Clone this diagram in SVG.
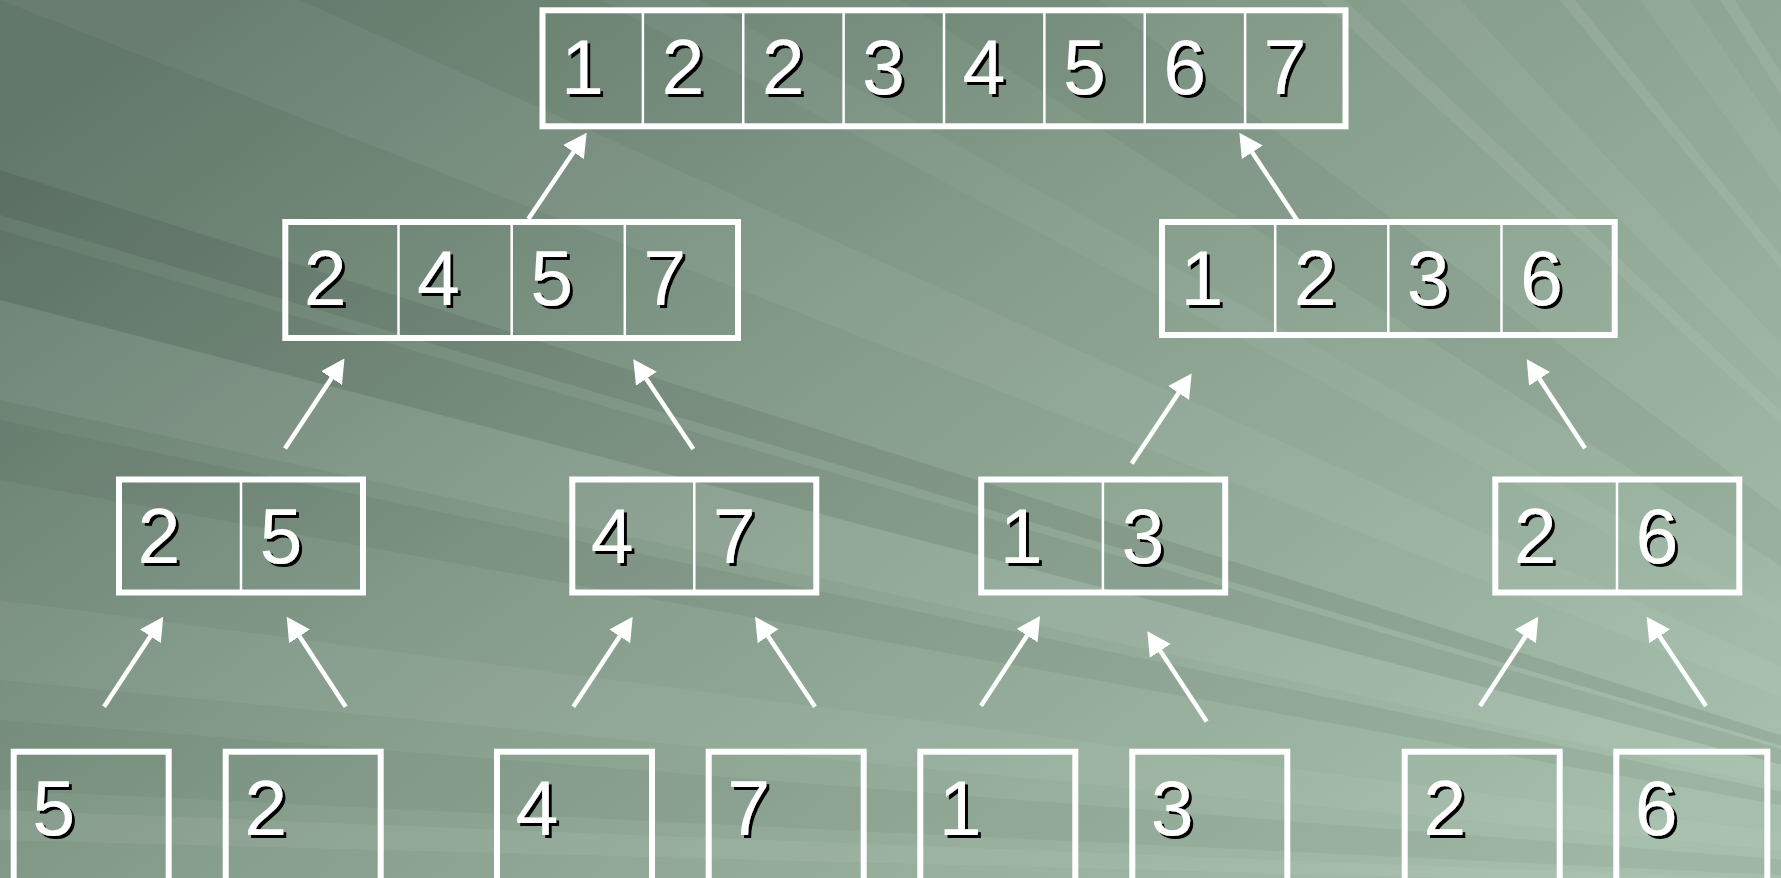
<svg xmlns="http://www.w3.org/2000/svg" width="1781" height="878" viewBox="0 0 1781 878">
<defs>
<linearGradient id="bg" x1="0" y1="0.15" x2="1" y2="0.85">
<stop offset="0" stop-color="#61786a"/>
<stop offset="0.45" stop-color="#869d8c"/>
<stop offset="1" stop-color="#a6beac"/>
</linearGradient>
<filter id="sh" x="-20%" y="-20%" width="150%" height="150%">
<feFlood flood-color="#000"/>
<feComposite in2="SourceAlpha" operator="in"/>
<feOffset dx="3" dy="3" result="s"/>
<feMerge><feMergeNode in="s"/><feMergeNode in="SourceGraphic"/></feMerge>
</filter>
<marker id="ah" markerUnits="userSpaceOnUse" viewBox="0 -13 25 26" refX="0.5" refY="0" markerWidth="25" markerHeight="26" orient="auto">
<path d="M0,-12.5 L23.5,0 L0,12.5 Z" fill="#fff"/>
</marker>
<style>
.box{fill:none;stroke:#fff;stroke-width:6}
.div{stroke:#fff;stroke-width:2.5}
.t{font-family:"Liberation Sans",Arial,sans-serif;font-size:77px;fill:#fff;filter:url(#sh)}
.a{stroke:#fff;stroke-width:4.5;fill:none;marker-end:url(#ah)}
.lr{fill:#fff}
.dr{fill:#000}
</style>
</defs>
<g id="background">
<rect x="0" y="0" width="1781" height="878" fill="url(#bg)"/>
<polygon class="dr" opacity="0.08" points="2300,900 0,170 0,215"/>
<polygon class="dr" opacity="0.06" points="2300,900 0,230 0,300"/>
<polygon class="lr" opacity="0.06" points="2300,900 0,300 0,400"/>
<polygon class="dr" opacity="0.05" points="2300,900 0,420 0,480"/>
<polygon class="lr" opacity="0.05" points="2300,900 0,600 0,680"/>
<polygon class="dr" opacity="0.04" points="2300,900 0,720 0,790"/>
<polygon class="lr" opacity="0.06" points="2300,900 0,810 0,840"/>
<polygon class="lr" opacity="0.07" points="2300,900 1320,0 1345,0"/>
<polygon class="lr" opacity="0.05" points="2300,900 1400,0 1460,0"/>
<polygon class="lr" opacity="0.08" points="2300,900 1560,0 1575,0"/>
<polygon class="lr" opacity="0.05" points="2300,900 1640,0 1690,0"/>
<polygon class="lr" opacity="0.08" points="2300,900 1720,0 1735,0"/>
<polygon class="dr" opacity="0.04" points="2300,900 900,0 1100,0"/>
<polygon class="lr" opacity="0.04" points="2300,900 600,0 700,0"/>
<polygon class="lr" opacity="0.05" points="2300,900 0,0 300,0"/>
</g>
<g id="connectors">
<line class="a" x1="528.3" y1="219" x2="573.8" y2="151.7"/>
<line class="a" x1="1296.9" y1="220" x2="1252" y2="151.9"/>
<line class="a" x1="285" y1="448.5" x2="331.8" y2="377.7"/>
<line class="a" x1="693.3" y1="449" x2="646.1" y2="378.4"/>
<line class="a" x1="1131.7" y1="463.5" x2="1178.9" y2="392.6"/>
<line class="a" x1="1585" y1="448.3" x2="1539.3" y2="378.5"/>
<line class="a" x1="104" y1="706.7" x2="150.6" y2="635.9"/>
<line class="a" x1="345.7" y1="706.7" x2="299.3" y2="635.9"/>
<line class="a" x1="573.3" y1="706.7" x2="620" y2="635.9"/>
<line class="a" x1="815" y1="706.7" x2="767.8" y2="635.8"/>
<line class="a" x1="981" y1="705.7" x2="1027.4" y2="635.1"/>
<line class="a" x1="1206.7" y1="721.5" x2="1160" y2="650.5"/>
<line class="a" x1="1480" y1="706" x2="1525.7" y2="636"/>
<line class="a" x1="1706" y1="706" x2="1659.4" y2="635.9"/>
</g>
<g id="n-top">
<rect class="box" x="542.5" y="10.3" width="803" height="116"/>
<line class="div" x1="642.9" y1="10.3" x2="642.9" y2="126.3"/>
<line class="div" x1="743.25" y1="10.3" x2="743.25" y2="126.3"/>
<line class="div" x1="843.6" y1="10.3" x2="843.6" y2="126.3"/>
<line class="div" x1="944" y1="10.3" x2="944" y2="126.3"/>
<line class="div" x1="1044.4" y1="10.3" x2="1044.4" y2="126.3"/>
<line class="div" x1="1144.75" y1="10.3" x2="1144.75" y2="126.3"/>
<line class="div" x1="1245.1" y1="10.3" x2="1245.1" y2="126.3"/>
<text class="t" x="561" y="94">1</text>
<text class="t" x="661.4" y="94">2</text>
<text class="t" x="761.8" y="94">2</text>
<text class="t" x="862.1" y="94">3</text>
<text class="t" x="962.5" y="94">4</text>
<text class="t" x="1062.9" y="94">5</text>
<text class="t" x="1163.3" y="94">6</text>
<text class="t" x="1263.6" y="94">7</text>
</g>
<g id="n-2457">
<rect class="box" x="285.3" y="222" width="452.7" height="116"/>
<line class="div" x1="398.5" y1="222" x2="398.5" y2="338"/>
<line class="div" x1="511.7" y1="222" x2="511.7" y2="338"/>
<line class="div" x1="624.8" y1="222" x2="624.8" y2="338"/>
<text class="t" x="303.8" y="305">2</text>
<text class="t" x="417" y="305">4</text>
<text class="t" x="530.2" y="305">5</text>
<text class="t" x="643.3" y="305">7</text>
</g>
<g id="n-1236">
<rect class="box" x="1162" y="222" width="452.7" height="113"/>
<line class="div" x1="1275.2" y1="222" x2="1275.2" y2="335"/>
<line class="div" x1="1388.3" y1="222" x2="1388.3" y2="335"/>
<line class="div" x1="1501.5" y1="222" x2="1501.5" y2="335"/>
<text class="t" x="1180.5" y="305">1</text>
<text class="t" x="1293.7" y="305">2</text>
<text class="t" x="1406.8" y="305">3</text>
<text class="t" x="1520" y="305">6</text>
</g>
<g id="n-25">
<rect class="box" x="119" y="479.5" width="244" height="113"/>
<line class="div" x1="241" y1="479.5" x2="241" y2="592.5"/>
<text class="t" x="137.5" y="562.5">2</text>
<text class="t" x="259.5" y="562.5">5</text>
</g>
<g id="n-47">
<rect class="box" x="572.3" y="479.5" width="244" height="113"/>
<line class="div" x1="694.3" y1="479.5" x2="694.3" y2="592.5"/>
<text class="t" x="590.8" y="562.5">4</text>
<text class="t" x="712.8" y="562.5">7</text>
</g>
<g id="n-13">
<rect class="box" x="981.2" y="479.5" width="244" height="113"/>
<line class="div" x1="1102.9" y1="479.5" x2="1102.9" y2="592.5"/>
<text class="t" x="999.7" y="562.5">1</text>
<text class="t" x="1121.5" y="562.5">3</text>
</g>
<g id="n-26">
<rect class="box" x="1495.3" y="479.5" width="244" height="113"/>
<line class="div" x1="1617" y1="479.5" x2="1617" y2="592.5"/>
<text class="t" x="1513.8" y="562.5">2</text>
<text class="t" x="1635.5" y="562.5">6</text>
</g>
<g id="n-leaf-5">
<rect class="box" x="13.7" y="751.7" width="155" height="150"/>
<text class="t" x="32.2" y="834.5">5</text>
</g>
<g id="n-leaf-2a">
<rect class="box" x="225.7" y="751.7" width="155" height="150"/>
<text class="t" x="244.2" y="834.5">2</text>
</g>
<g id="n-leaf-4">
<rect class="box" x="497" y="751.7" width="155" height="150"/>
<text class="t" x="515.5" y="834.5">4</text>
</g>
<g id="n-leaf-7">
<rect class="box" x="708.7" y="751.7" width="155" height="150"/>
<text class="t" x="727.2" y="834.5">7</text>
</g>
<g id="n-leaf-1">
<rect class="box" x="920.3" y="751.7" width="155" height="150"/>
<text class="t" x="938.8" y="834.5">1</text>
</g>
<g id="n-leaf-3">
<rect class="box" x="1132.3" y="751.7" width="155" height="150"/>
<text class="t" x="1150.8" y="834.5">3</text>
</g>
<g id="n-leaf-2b">
<rect class="box" x="1404.7" y="751.7" width="155" height="150"/>
<text class="t" x="1423.2" y="834.5">2</text>
</g>
<g id="n-leaf-6">
<rect class="box" x="1616.3" y="751.7" width="151" height="150"/>
<text class="t" x="1634.8" y="834.5">6</text>
</g>
</svg>
